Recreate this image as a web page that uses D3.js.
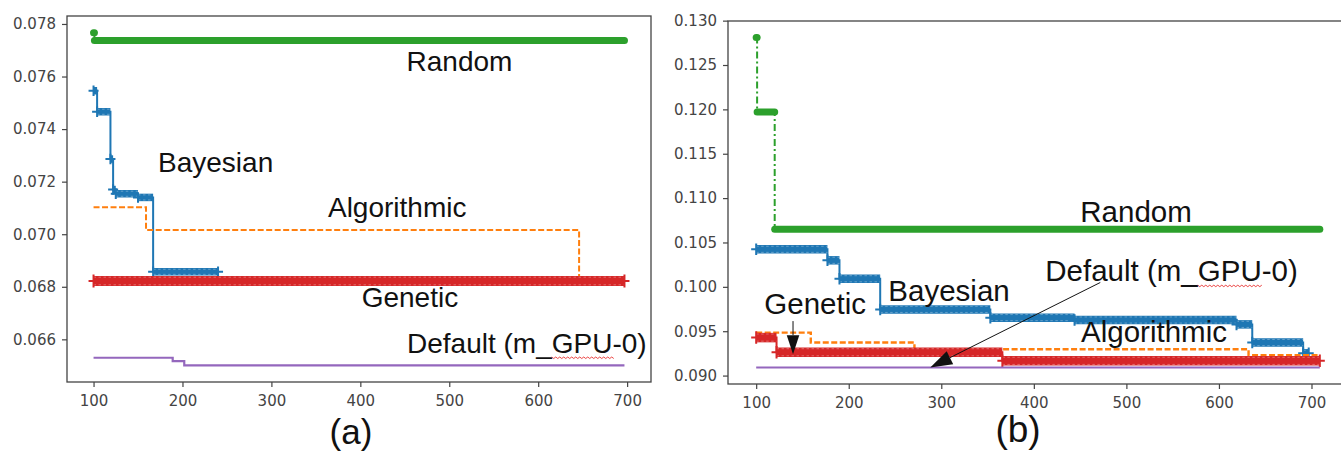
<!DOCTYPE html>
<html>
<head>
<meta charset="utf-8">
<script src="https://cdn.jsdelivr.net/npm/d3@7"></script>
<style>
  body { margin: 0; background: #fff; }
  svg { display: block; }
</style>
</head>
<body>
<div id="chart"></div>
<script>
const width = 1341;
const height = 454;

const xTicks = [100, 200, 300, 400, 500, 600, 700];
const yTicksA = [0.066, 0.068, 0.070, 0.072, 0.074, 0.076, 0.078];
const yTicksB = [0.090, 0.095, 0.100, 0.105, 0.110, 0.115, 0.120, 0.125, 0.130];

// each series: iteration where the best value changes, value from there on, last iteration
// panel (a)
const bayesA_x = [100, 104, 119, 122, 125, 150, 167];
const bayesA_y = [0.07546, 0.07466, 0.07286, 0.07170, 0.07154, 0.07140, 0.06857];
const bayesA_end = 240;
const algoA_x = [100, 159, 646];
const algoA_y = [0.07103, 0.07016, 0.06822];
const algoA_end = 697;
const randomA_x = [100, 101];
const randomA_y = [0.07767, 0.07737];
const randomA_end = 697;
const geneA_x = [100];
const geneA_y = [0.06822];
const geneA_end = 697;
const defA_x = [100, 189, 202];
const defA_y = [0.06530, 0.06517, 0.06501];
const defA_end = 697;

// panel (b)
const bayesB_x = [100, 177, 190, 234, 353, 444, 619, 636, 691];
const bayesB_y = [0.10423, 0.10299, 0.10091, 0.09746, 0.09653, 0.09626, 0.09577, 0.09372, 0.09251];
const bayesB_end = 697;
const algoB_x = [100, 159, 271, 632];
const algoB_y = [0.09484, 0.09372, 0.09297, 0.09229];
const algoB_end = 707;
const randomB_x = [100, 101, 120];
const randomB_y = [0.1281, 0.1197, 0.1065];
const randomB_end = 709;
const geneB_x = [100, 122, 366];
const geneB_y = [0.09428, 0.09263, 0.09166];
const geneB_end = 709;
const defB_x = [100];
const defB_y = [0.09091];
const defB_end = 709;

const blue = "#1f77b4", orange = "#ff7f0e", green = "#2ca02c", red = "#d62728", purple = "#9467bd";

const svg = d3.select("#chart")
  .append("svg")
  .attr("width", width)
  .attr("height", height);

function padded(lo, hi) {
  var m = (hi - lo) * 0.05;
  return [lo - m, hi + m];
}

function drawPanel(p) {
  var xs = p.series.map(s => s.xs[0]).concat(p.series.map(s => s.end));
  var ys = [].concat(...p.series.map(s => s.ys));
  var x = d3.scaleLinear().domain(padded(d3.min(xs), d3.max(xs))).range([p.left, p.right]);
  var y = d3.scaleLinear().domain(padded(d3.min(ys), d3.max(ys))).range([p.bottom, p.top]);

  var g = svg.append("g");

  // axes
  var xAxis = g.append("g")
    .attr("transform", "translate(0," + p.bottom + ")")
    .call(d3.axisBottom(x).tickValues(xTicks).tickSize(5).tickPadding(8).tickFormat(d3.format("d")));
  var yAxis = g.append("g")
    .attr("transform", "translate(" + p.left + ",0)")
    .call(d3.axisLeft(y).tickValues(p.yTicks).tickSize(5).tickPadding(6).tickFormat(d3.format(".3f")));
  [xAxis, yAxis].forEach(a => {
    a.select(".domain").remove();
    a.selectAll("line").attr("stroke", "#444").attr("stroke-width", 1.2);
    a.selectAll("text")
      .attr("fill", "#444")
      .style("font-family", "'DejaVu Sans', sans-serif")
      .style("font-size", "15px");
  });

  g.append("rect")
    .attr("x", p.left).attr("y", p.top)
    .attr("width", p.right - p.left).attr("height", p.bottom - p.top)
    .attr("fill", "none").attr("stroke", "#444").attr("stroke-width", 1.3);

  var line = d3.line().x(d => x(d[0])).y(d => y(d[1])).curve(d3.curveStepAfter);

  p.series.forEach(s => {
    var pts = s.xs.map((v, i) => [v, s.ys[i]]);
    pts.push([s.end, s.ys[s.ys.length - 1]]);
    var segs = s.xs.map((v, i) => ({x0: v, x1: i < s.xs.length - 1 ? s.xs[i + 1] : s.end, v: s.ys[i]}));

    var sg = g.append("g");
    sg.append("path")
      .attr("d", line(pts))
      .attr("fill", "none")
      .attr("stroke", s.color)
      .attr("stroke-width", s.lw)
      .attr("stroke-dasharray", s.dash || null);

    if (s.band) {
      // dense markers read as a thick band along each flat stretch
      sg.selectAll(".band")
        .data(segs)
        .enter()
        .append("line")
          .attr("x1", d => x(d.x0)).attr("x2", d => x(d.x1))
          .attr("y1", d => y(d.v)).attr("y2", d => y(d.v))
          .attr("stroke", s.color)
          .attr("stroke-width", s.band)
          .attr("stroke-linecap", s.marker == "o" ? "round" : "butt");
    }
    if (s.marker == "+") {
      [-1, 1].forEach(k => {
        sg.selectAll(".edge")
          .data(segs.filter(d => x(d.x1) - x(d.x0) > 4))
          .enter()
          .append("line")
            .attr("x1", d => x(d.x0)).attr("x2", d => x(d.x1))
            .attr("y1", d => y(d.v) + k * (s.band / 2 - 1.2))
            .attr("y2", d => y(d.v) + k * (s.band / 2 - 1.2))
            .attr("stroke", "#fff").attr("stroke-opacity", 0.45)
            .attr("stroke-width", 0.7).attr("stroke-dasharray", "2.5,2.5");
      });
      var ends = segs.map(d => [d.x0, d.v]).concat([[s.end, s.ys[s.ys.length - 1]]]);
      sg.selectAll(".plus")
        .data(ends)
        .enter()
        .append("path")
          .attr("d", d => "M" + (x(d[0]) - 5) + "," + y(d[1]) + "H" + (x(d[0]) + 5) +
                          "M" + x(d[0]) + "," + (y(d[1]) - s.band / 2 - 1.5) + "V" + (y(d[1]) + s.band / 2 + 1.5))
          .attr("stroke", s.color)
          .attr("stroke-width", 2)
          .attr("fill", "none");
    }
  });

  // series names
  p.labels.forEach(l => {
    var t = g.append("text")
      .attr("x", x(l.x)).attr("y", y(l.y))
      .attr("fill", "#111")
      .style("font-family", "'Liberation Sans', Arial, sans-serif")
      .style("font-size", p.labelSize + "px")
      .text(l.text);
    var i = l.text.indexOf("GPU");
    if (i >= 0) {
      var n = t.node();
      var x0 = x(l.x) + n.getSubStringLength(0, i);
      var w = n.getSubStringLength(i, 3);
      var yy = y(l.y) + 4;
      var d = "M" + x0 + "," + yy;
      for (var k = 0; k * 2 < w; k++) d += "L" + (x0 + (k + 1) * 2) + "," + (yy + (k % 2 ? 0 : 1.5));
      g.append("path").attr("d", d).attr("fill", "none").attr("stroke", "#e8302e").attr("stroke-width", 0.9);
    }
  });

  // arrows
  p.arrows.forEach(a => {
    var x1 = x(a.from[0]), y1 = y(a.from[1]), x2 = x(a.to[0]), y2 = y(a.to[1]);
    var len = Math.hypot(x2 - x1, y2 - y1);
    var ux = (x2 - x1) / len, uy = (y2 - y1) / len;
    var hl = a.head, hw = a.head * 0.33;
    var bx = x2 - ux * hl, by = y2 - uy * hl;
    g.append("line")
      .attr("x1", x1).attr("y1", y1).attr("x2", bx).attr("y2", by)
      .attr("stroke", "#111").attr("stroke-width", 1);
    g.append("path")
      .attr("d", "M" + x2 + "," + y2 + "L" + (bx - uy * hw) + "," + (by + ux * hw) +
                 "L" + (bx + uy * hw) + "," + (by - ux * hw) + "Z")
      .attr("fill", "#111");
  });

  svg.append("text")
    .attr("x", p.caption[0]).attr("y", p.caption[1])
    .attr("text-anchor", "middle")
    .attr("fill", "#111")
    .style("font-family", "'Liberation Sans', Arial, sans-serif")
    .style("font-size", p.captionSize + "px")
    .text(p.captionText);
}

drawPanel({
  left: 67, right: 651, top: 16, bottom: 382,
  yTicks: yTicksA,
  series: [
    {xs: bayesA_x, ys: bayesA_y, end: bayesA_end, color: blue, lw: 2, band: 7.5, marker: "+"},
    {xs: algoA_x, ys: algoA_y, end: algoA_end, color: orange, lw: 2, dash: "6,2.5"},
    {xs: randomA_x, ys: randomA_y, end: randomA_end, color: green, lw: 2, band: 7, marker: "o", dash: "7,3,2,3"},
    {xs: geneA_x, ys: geneA_y, end: geneA_end, color: red, lw: 2, band: 10, marker: "+"},
    {xs: defA_x, ys: defA_y, end: defA_end, color: purple, lw: 2.2}
  ],
  labelSize: 28,
  labels: [
    {text: "Random", x: 452, y: 0.07621},
    {text: "Bayesian", x: 172.5, y: 0.07237},
    {text: "Algorithmic", x: 363.6, y: 0.07066},
    {text: "Genetic", x: 401.5, y: 0.06724},
    {text: "Default (m_GPU-0)", x: 452.5, y: 0.06548}
  ],
  arrows: [],
  caption: [351, 444], captionSize: 35, captionText: "(a)"
});

drawPanel({
  left: 728, right: 1348, top: 21, bottom: 384,
  yTicks: yTicksB,
  series: [
    {xs: bayesB_x, ys: bayesB_y, end: bayesB_end, color: blue, lw: 2, band: 8.5, marker: "+"},
    {xs: algoB_x, ys: algoB_y, end: algoB_end, color: orange, lw: 2.4, dash: "6,2.5"},
    {xs: randomB_x, ys: randomB_y, end: randomB_end, color: green, lw: 2, band: 7, marker: "o", dash: "7,3,2,3"},
    {xs: geneB_x, ys: geneB_y, end: geneB_end, color: red, lw: 2, band: 9.5, marker: "+"},
    {xs: defB_x, ys: defB_y, end: defB_end, color: purple, lw: 2.2}
  ],
  labelSize: 29.5,
  labels: [
    {text: "Random", x: 450.2, y: 0.10726},
    {text: "Bayesian", x: 242.8, y: 0.09836},
    {text: "Genetic", x: 108.8, y: 0.09690},
    {text: "Default (m_GPU-0)", x: 412.4, y: 0.10064},
    {text: "Algorithmic", x: 451, y: 0.09375}
  ],
  arrows: [
    {from: [139.8, 0.09614], to: [139.8, 0.09240], head: 19},
    {from: [471.8, 0.10049], to: [288.1, 0.09091], head: 22}
  ],
  caption: [1018, 442], captionSize: 37, captionText: "(b)"
});
</script>
</body>
</html>
